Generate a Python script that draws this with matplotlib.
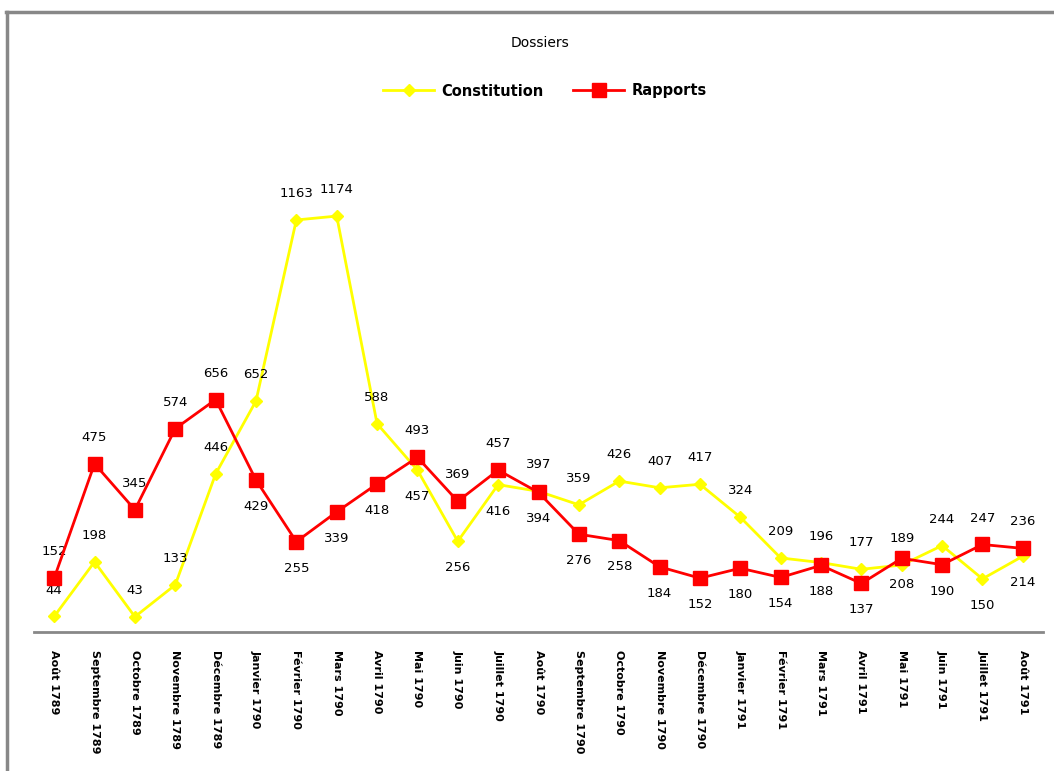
import matplotlib.pyplot as plt
from matplotlib.lines import Line2D

months = ['Août 1789', 'Septembre 1789', 'Octobre 1789', 'Novembre 1789', 'Décembre 1789',
          'Janvier 1790', 'Février 1790', 'Mars 1790', 'Avril 1790', 'Mai 1790', 'Juin 1790',
          'Juillet 1790', 'Août 1790', 'Septembre 1790', 'Octobre 1790', 'Novembre 1790',
          'Décembre 1790', 'Janvier 1791', 'Février 1791', 'Mars 1791', 'Avril 1791',
          'Mai 1791', 'Juin 1791', 'Juillet 1791', 'Août 1791']
constitution = [44, 198, 43, 133, 446, 652, 1163, 1174, 588, 457, 256, 416, 397,
                359, 426, 407, 417, 324, 209, 196, 177, 189, 244, 150, 214]
rapports = [152, 475, 345, 574, 656, 429, 255, 339, 418, 493, 369, 457, 394,
            276, 258, 184, 152, 180, 154, 188, 137, 208, 190, 247, 236]

# label placement: 1 = above the point, -1 = below
const_pos = [1, 1, 1, 1, 1, 1, 1, 1, 1, -1, -1, -1, 1,
             1, 1, 1, 1, 1, 1, 1, 1, 1, 1, -1, -1]
rapp_pos = [1, 1, 1, 1, 1, -1, -1, -1, -1, 1, 1, 1, -1,
            -1, -1, -1, -1, -1, -1, -1, -1, -1, -1, 1, 1]

fig = plt.figure(figsize=(10.54, 7.71), dpi=100)
ax = fig.add_axes([34 / 1054, 1 - 632 / 771, 1009 / 1054, (632 - 136) / 771])

x = list(range(len(months)))
ax.plot(x, constitution, color='#FFFF00', lw=2, marker='D', ms=6.5, zorder=3,
        label='Constitution')
ax.plot(x, rapports, color='#FF0000', lw=2, marker='s', ms=10, zorder=4,
        label='Rapports')

for xi, v, p in zip(x, constitution, const_pos):
    ax.annotate(str(v), (xi, v), xytext=(0, 19 * p), textcoords='offset points',
                ha='center', va='center', fontsize=9.5, color='black')
for xi, v, p in zip(x, rapports, rapp_pos):
    ax.annotate(str(v), (xi, v), xytext=(0, 19 * p), textcoords='offset points',
                ha='center', va='center', fontsize=9.5, color='black')

ax.set_xlim(-0.5, len(months) - 0.5)
ax.set_ylim(0, 1400)
ax.set_xticks(x)
ax.set_xticklabels(months, rotation=-90, fontsize=8, fontweight='bold', va='top')
ax.tick_params(axis='x', length=0, pad=13)
ax.set_yticks([])
for s in ['top', 'right', 'left']:
    ax.spines[s].set_visible(False)
ax.spines['bottom'].set_color('#888888')
ax.spines['bottom'].set_linewidth(2)

fig.text(540 / 1054, 1 - 43 / 771, 'Dossiers', ha='center', va='center', fontsize=10)

handles = [Line2D([], [], color='#FFFF00', lw=2, marker='D', ms=6.5),
           Line2D([], [], color='#FF0000', lw=2, marker='s', ms=10)]
fig.legend(handles, ['Constitution', 'Rapports'], loc='center',
           bbox_to_anchor=(545 / 1054, 1 - 91 / 771), ncol=2, frameon=False,
           prop={'size': 10.5, 'weight': 'bold'}, handlelength=3.5, columnspacing=2,
           handletextpad=0.5)

# outer chart frame (only top and left edges visible)
fig.add_artist(Line2D([6 / 1054, 1], [1 - 12 / 771, 1 - 12 / 771], color='#888888', lw=2.5))
fig.add_artist(Line2D([7 / 1054, 7 / 1054], [0, 1 - 12 / 771], color='#888888', lw=2.5))

fig.savefig('out.png', dpi=100)
